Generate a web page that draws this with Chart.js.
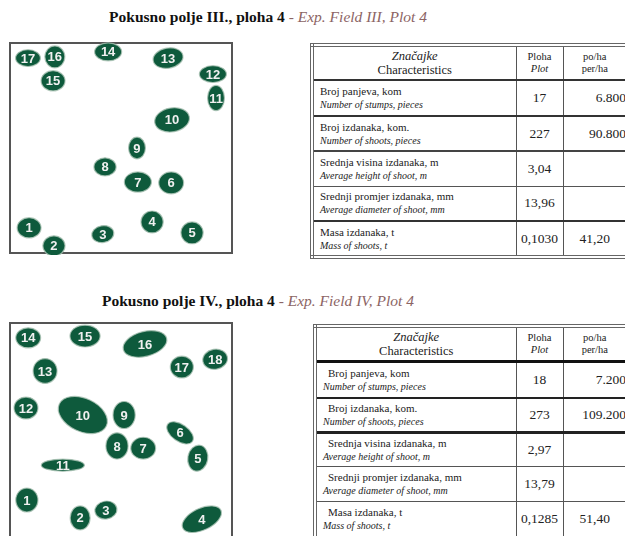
<!DOCTYPE html>
<html>
<head>
<meta charset="utf-8">
<script src="https://cdn.jsdelivr.net/npm/chart.js@4.4.0/dist/chart.umd.min.js"></script>
<style>
    html, body { margin: 0; padding: 0; background: #fff; overflow: hidden; width: 625px; height: 536px; }
    .title { position: absolute; left: 0; text-align: center; font-family: "Liberation Serif", serif; font-size: 15.5px; font-weight: bold; color: #111; white-space: nowrap; }
    .title span { font-weight: normal; font-style: italic; color: #8c6464; }
    canvas { position: absolute; }
    table { position: absolute; border-collapse: collapse; font-family: "Liberation Serif", serif; color: #222; border: 4px double #666; table-layout: fixed; }
    td, th { padding: 0 3px; border-left: 1.5px solid #555; border-right: 1.5px solid #555; }
    th { font-weight: normal; font-size: 12.5px; line-height: 14px; text-align: center; }
    th.sm { font-size: 10.5px; line-height: 12px; }
    td.lab { font-size: 11px; line-height: 13px; text-align: left; padding-left: 6px; }
    td.lab i { font-size: 10px; }
    td.num { font-size: 13.5px; text-align: center; padding: 0 1px; }
    td.ha { text-align: right; padding-right: 0; }
</style>
</head>
<body>
<div class="title" style="top:8px; width:536px;">Pokusno polje III., ploha 4 <span>- Exp. Field III, Plot 4</span></div>
<div class="title" style="top:292px; width:516px;">Pokusno polje IV., ploha 4 <span>- Exp. Field IV, Plot 4</span></div>

<canvas id="map3" width="226" height="214" style="left:8px; top:41px;"></canvas>
<canvas id="map4" width="226" height="222" style="left:8px; top:321px;"></canvas>

<table id="tab3" style="left:310px; top:43px; width:320px;"></table>
<table id="tab4" style="left:313px; top:324px; width:317px;"></table>

<script>
// stump positions and crown sizes (plot units, 0-50)
const field3Ids = [1, 2, 3, 4, 5, 6, 7, 8, 9, 10, 11, 12, 13, 14, 15, 16, 17];
const field3X = [4.3, 9.9, 20.9, 32.0, 41.0, 36.3, 28.8, 21.4, 28.6, 36.5, 46.4, 45.7, 35.6, 22.1, 9.7, 10.1, 4.05];
const field3Y = [6.0, 1.7, 4.5, 7.4, 4.8, 16.7, 16.9, 20.5, 25.0, 31.7, 36.9, 42.6, 46.4, 47.9, 41.0, 46.7, 46.4];
const field3W = [5.4, 5.0, 5.0, 5.0, 5.0, 5.6, 6.1, 5.0, 3.8, 7.9, 3.8, 6.1, 6.8, 6.1, 5.4, 4.5, 5.6];
const field3H = [4.8, 4.8, 4.0, 5.2, 5.2, 5.2, 4.8, 4.3, 5.2, 5.7, 6.0, 4.0, 4.8, 4.3, 4.8, 5.2, 4.0];
const field3Angle = [0, 0, -10, 0, 0, 0, 0, 0, 0, -10, 0, 0, -10, 0, 0, 0, 0];

const field4Ids = [1, 2, 3, 4, 5, 6, 7, 8, 9, 10, 11, 12, 13, 14, 15, 16, 17, 18];
const field4X = [3.8, 15.8, 21.6, 43.2, 42.3, 38.3, 30.0, 24.1, 25.7, 16.4, 11.9, 3.6, 7.9, 4.1, 16.9, 30.4, 38.7, 46.2];
const field4Y = [9.4, 5.3, 7.1, 5.0, 19.0, 24.8, 21.3, 21.8, 28.9, 28.9, 17.4, 30.5, 39.0, 46.6, 47.0, 45.2, 39.9, 41.7];
const field4W = [5.0, 4.5, 5.0, 9.5, 4.5, 6.8, 5.6, 5.0, 5.0, 11.7, 9.7, 5.4, 5.4, 5.6, 6.8, 10.1, 5.2, 5.6];
const field4H = [5.5, 5.5, 4.1, 5.0, 6.0, 3.9, 5.0, 6.0, 6.2, 7.6, 2.8, 5.0, 5.7, 4.6, 5.0, 5.7, 5.0, 4.6];
const field4Angle = [0, 0, -10, -25, 10, 35, 0, 0, 0, 25, 0, 0, 0, 0, 0, -15, 0, -10];

// table values
const rowsHr = ['Broj panjeva, kom', 'Broj izdanaka, kom.', 'Srednja visina izdanaka, m', 'Srednji promjer izdanaka, mm', 'Masa izdanaka, t'];
const rowsEn = ['Number of stumps, pieces', 'Number of shoots, pieces', 'Average height of shoot, m', 'Average diameter of shoot, mm', 'Mass of shoots, t'];
const field3Plot = ['17', '227', '3,04', '13,96', '0,1030'];
const field3Ha = ['6.800', '90.800', '', '', '41,20'];
const field4Plot = ['18', '273', '2,97', '13,79', '0,1285'];
const field4Ha = ['7.200', '109.200', '', '', '51,40'];

const stumpPlugin = {
    id: 'stumps',
    afterDatasetsDraw(chart) {
        const ctx = chart.ctx;
        const xs = chart.scales.x, ys = chart.scales.y;
        const a = chart.chartArea;
        ctx.save();
        ctx.strokeStyle = '#555';
        ctx.lineWidth = 2;
        ctx.strokeRect(a.left, a.top, a.right - a.left, a.bottom - a.top);
        const ds = chart.data.datasets[0];
        chart.getDatasetMeta(0).data.forEach((pt, i) => {
            const d = ds.data[i];
            const rx = Math.abs(xs.getPixelForValue(d.x + ds.w[i] / 2) - xs.getPixelForValue(d.x));
            const ry = Math.abs(ys.getPixelForValue(d.y + ds.h[i] / 2) - ys.getPixelForValue(d.y));
            ctx.beginPath();
            ctx.ellipse(pt.x, pt.y, rx, ry, ds.angle[i] * Math.PI / 180, 0, Math.PI * 2);
            ctx.fillStyle = '#0e5a3c';
            ctx.fill();
            ctx.strokeStyle = 'rgba(170,195,180,0.8)';
            ctx.lineWidth = 1.2;
            ctx.stroke();
            ctx.fillStyle = '#f0f0f0';
            ctx.font = 'bold 13px "Liberation Sans", Arial, sans-serif';
            ctx.textAlign = 'center';
            ctx.textBaseline = 'middle';
            ctx.fillText(String(ds.ids[i]), pt.x, pt.y + 1);
        });
        ctx.restore();
    }
};

function makeMap(id, ids, xs, ys, ws, hs, angles) {
    new Chart(document.getElementById(id), {
        type: 'scatter',
        data: {
            datasets: [{
                data: ids.map((n, i) => ({ x: xs[i], y: ys[i] })),
                ids: ids, w: ws, h: hs, angle: angles,
                pointRadius: 0,
                pointHoverRadius: 0
            }]
        },
        options: {
            responsive: false,
            animation: false,
            layout: { padding: 2 },
            plugins: { legend: { display: false }, tooltip: { enabled: false } },
            scales: {
                x: { display: false, min: 0, max: 50 },
                y: { display: false, min: 0, max: 50 }
            }
        },
        plugins: [stumpPlugin]
    });
}

makeMap('map3', field3Ids, field3X, field3Y, field3W, field3H, field3Angle);
makeMap('map4', field4Ids, field4X, field4Y, field4W, field4H, field4Angle);

function makeTable(id, plot, ha, heights, lines, indent) {
    const t = document.getElementById(id);
    let html = '<colgroup><col style="width:' + (indent ? 201 : 204) + 'px"><col style="width:47px"><col></colgroup>';
    html += '<tr style="height:' + heights[0] + 'px; border-bottom:' + lines[0] + '"><th><i>Značajke</i><br>Characteristics</th>' +
        '<th class="sm">Ploha<br><i>Plot</i></th><th class="sm">po/ha<br>per/ha</th></tr>';
    rowsHr.forEach((r, i) => {
        const last = i === rowsHr.length - 1;
        const hr = indent ? '<span style="padding-left:' + indent + 'px">' + r + '</span>' : r;
        html += '<tr style="height:' + heights[i + 1] + 'px;' + (last ? '' : ' border-bottom:' + lines[i + 1]) + '">' +
            '<td class="lab">' + hr + '<br><i>' + rowsEn[i] + '</i></td>' +
            '<td class="num">' + plot[i] + '</td>' +
            '<td class="num' + (last ? '' : ' ha') + '">' + ha[i] + '</td></tr>';
    });
    t.innerHTML = html;
}

makeTable('tab3', field3Plot, field3Ha, [35, 36, 35, 35, 35, 36],
    ['2px solid #333', '2px solid #333', '2px solid #444', '1.5px solid #555', '2px solid #333'], 0);
makeTable('tab4', field4Plot, field4Ha, [35, 37, 34, 34, 35, 37],
    ['3px solid #111', '2px solid #222', '3px solid #222', '1.5px solid #555', '1.5px solid #555'], 5);
</script>
</body>
</html>
